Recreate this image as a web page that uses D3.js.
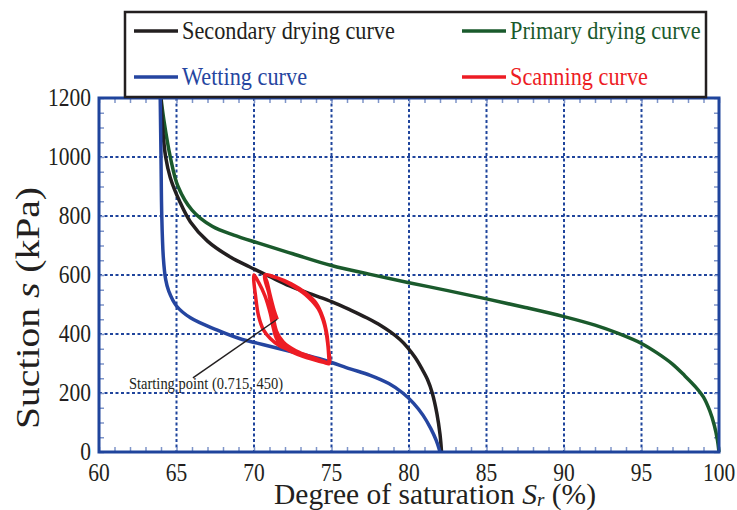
<!DOCTYPE html>
<html><head><meta charset="utf-8">
<script src="https://cdn.jsdelivr.net/npm/d3@7"></script>
<style>body{margin:0;background:#fff}svg{display:block}svg text{font-family:"Liberation Serif",serif}</style>
</head><body>
<svg id="c" width="737" height="510"></svg>
<script>
// ---- data ----
const xTicks = [60,65,70,75,80,85,90,95,100];
const yTicks = [0,200,400,600,800,1000,1200];
const primaryDrying = [[64.0,1200],[64.2,1120],[64.6,1000],[65.1,900],[66.0,820],[67.3,765],[68.7,735],[70.3,708],[72.5,672],[75,632],[77.5,602],[80,574],[82.5,547],[85,519],[87.5,490],[90,459],[92,430],[93.5,402],[95,368],[96,336],[97,298],[97.8,258],[98.5,220],[99,186],[99.4,140],[99.7,90],[99.9,40],[100,0]];
const secondaryDrying = [[64.0,1200],[64.1,1100],[64.3,1000],[64.6,930],[65.2,850],[65.9,780],[67,715],[68.5,660],[69.7,628],[71,595],[72.3,563],[73.7,535],[75,510],[76.2,482],[77.3,454],[78.2,428],[78.8,407],[79.4,382],[79.9,355],[80.4,320],[80.8,285],[81.2,245],[81.5,200],[81.8,130],[82.0,60],[82.1,0]];
const wetting = [[63.95,1200],[64.0,1000],[64.05,800],[64.15,660],[64.3,585],[64.5,545],[65,495],[65.9,455],[67.6,414],[69.1,384],[70.2,369],[71.2,356],[72.5,339],[74.5,312],[76.2,282],[77.5,260],[78.7,232],[79.6,200],[80.3,165],[80.9,125],[81.4,80],[81.75,40],[82.0,0]];
const scanning = [[71.5,450],[71.3,480],[71.05,530],[70.85,575],[70.7,600],
 [71.5,590],[72.4,570],[73.3,540],[74.0,505],[74.45,455],[74.7,400],[74.8,350],[74.85,300],
 [74.1,312],[73.2,327],[72.3,345],[71.6,362],[71.05,385],[70.6,415],[70.3,460],[70.12,520],[70.0,600],
 [70.3,575],[70.7,530],[71.05,470],[71.25,420],[71.5,380],[72.1,350],[73.2,323],[74.85,300],
 [73.9,318],[72.7,343],[71.9,372],[71.45,410],[71.2,470],[70.95,540],[70.7,600],
 [71.6,588],[72.6,560],[73.5,525],[74.15,485],[74.55,430],[74.75,370],[74.85,300]];
const annotLine = [[71.5,450],[66.06,251]];
const annotText = "Starting point (0.715, 450)";
const legendItems = [
 {name:"Secondary drying curve", color:"#231f20", col:0,row:0},
 {name:"Primary drying curve", color:"#1a5a2c", col:1,row:0},
 {name:"Wetting curve", color:"#2545a0", col:0,row:1},
 {name:"Scanning curve", color:"#ed1c24", col:1,row:1}];

// ---- layout ----
const svg = d3.select("#c");
const FONT = "Liberation Serif, serif";
const SY = 1.15; // vertical stretch of lettering in the reference
const L=99,R=719,T=98,B=452;
const x = d3.scaleLinear().domain([60,100]).range([L,R]);
const y = d3.scaleLinear().domain([0,1200]).range([B,T]);
const axisBlue = "#1f449c";

// grid
const g = svg.append("g");
g.selectAll(".gx").data(xTicks.slice(1,-1)).join("line")
 .attr("x1",d=>x(d)).attr("x2",d=>x(d)).attr("y1",T).attr("y2",B)
 .attr("stroke",axisBlue).attr("stroke-width",2).attr("stroke-dasharray","3,2.5");
g.selectAll(".gy").data(yTicks.slice(1,-1)).join("line")
 .attr("y1",d=>y(d)).attr("y2",d=>y(d)).attr("x1",L).attr("x2",R)
 .attr("stroke",axisBlue).attr("stroke-width",2).attr("stroke-dasharray","3,2.5");

// minor ticks (all four sides, inward)
const tickCol="#7f95c9";
const axB = d3.axisBottom(x).ticks(40).tickSize(-5).tickFormat("");
const axT = d3.axisTop(x).ticks(40).tickSize(-5).tickFormat("");
const axL = d3.axisLeft(y).ticks(24).tickSize(-5).tickFormat("");
const axR = d3.axisRight(y).ticks(24).tickSize(-5).tickFormat("");
[[axB,`translate(0,${B})`],[axT,`translate(0,${T})`],[axL,`translate(${L},0)`],[axR,`translate(${R},0)`]].forEach(([a,t])=>{
 const gg=svg.append("g").attr("transform",t).call(a);
 gg.select(".domain").remove();
 gg.selectAll("text").remove();
 gg.selectAll("line").attr("stroke",tickCol).attr("stroke-width",1.5);
});

// curves
const line = d3.line().x(d=>x(d[0])).y(d=>y(d[1])).curve(d3.curveCatmullRom.alpha(0.5));
const curves = [[primaryDrying,"#1a5a2c",3.5],[secondaryDrying,"#231f20",3.5],[wetting,"#2545a0",3.5],[scanning,"#ed1c24",3.5]];
curves.forEach(([d,c,w])=>svg.append("path").datum(d).attr("d",line).attr("fill","none")
 .attr("stroke",c).attr("stroke-width",w).attr("stroke-linejoin","round"));

// annotation
svg.append("line").attr("x1",x(annotLine[0][0])).attr("y1",y(annotLine[0][1]))
 .attr("x2",x(annotLine[1][0])).attr("y2",y(annotLine[1][1])).attr("stroke","#231f20").attr("stroke-width",1.5);
svg.append("text").attr("transform",`translate(129,389) scale(1,${SY})`).style("font-family",FONT)
 .attr("font-size",14.5).attr("fill","#231f20").text(annotText);

// frame
svg.append("rect").attr("x",L).attr("y",T).attr("width",R-L).attr("height",B-T)
 .attr("fill","none").attr("stroke",axisBlue).attr("stroke-width",3);

// tick labels
svg.selectAll(".xl").data(xTicks).join("text")
 .attr("transform",d=>`translate(${x(d)},481) scale(1,${SY})`)
 .style("font-family",FONT).attr("text-anchor","middle").attr("font-size",21.5).attr("fill","#231f20").text(d=>d);
svg.selectAll(".yl").data(yTicks).join("text")
 .attr("transform",d=>`translate(91,${y(d)+8}) scale(1,${SY})`)
 .style("font-family",FONT).attr("text-anchor","end").attr("font-size",21.5).attr("fill","#231f20").text(d=>d);

// axis titles
const xt = svg.append("text").attr("transform",`translate(435,504)`).style("font-family",FONT)
 .attr("text-anchor","middle").attr("font-size",29.5).attr("fill","#231f20");
xt.append("tspan").text("Degree of saturation ");
xt.append("tspan").attr("font-style","italic").text("S");
xt.append("tspan").attr("font-style","italic").attr("font-size",19).attr("dy",2).text("r");
xt.append("tspan").attr("dy",-2).text(" (%)");
const yt = svg.append("text").attr("transform",`translate(39,308) rotate(-90) scale(1.2,1)`).style("font-family",FONT)
 .attr("text-anchor","middle").attr("font-size",33).attr("fill","#231f20");
yt.append("tspan").text("Suction ");
yt.append("tspan").attr("font-style","italic").text("s");
yt.append("tspan").text(" (kPa)");

// legend
svg.append("rect").attr("x",125).attr("y",12).attr("width",581).attr("height",85)
 .attr("fill","#fff").attr("stroke","#231f20").attr("stroke-width",2.5);
const lg = svg.selectAll(".lg").data(legendItems).join("g")
 .attr("transform",d=>`translate(${d.col?462:134},${d.row?77:31})`);
lg.append("line").attr("x1",0).attr("x2",44).attr("stroke",d=>d.color).attr("stroke-width",3.5);
lg.append("text").attr("transform",`translate(48,7.5) scale(1,${SY})`).style("font-family",FONT)
 .attr("font-size",22.3).attr("fill",d=>d.color).text(d=>d.name);
</script>
</body></html>
